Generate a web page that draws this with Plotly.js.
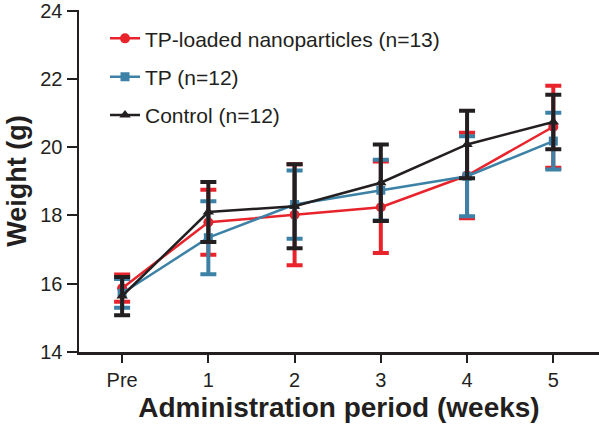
<!DOCTYPE html>
<html>
<head>
<meta charset="utf-8">
<script src="https://cdn.plot.ly/plotly-3.0.1.min.js"></script>
<style>html,body{margin:0;padding:0;background:#fff;}#chart{width:599px;height:430px;}</style>
</head>
<body>
<div id="chart"></div>
<script>
const weeks = ['Pre', '1', '2', '3', '4', '5'];
const seriesNames = ['TP-loaded nanoparticles (n=13)', 'TP (n=12)', 'Control (n=12)'];
const nanoMean = [15.87, 17.80, 18.02, 18.24, 19.17, 20.60];
const nanoErr  = [0.40, 0.95, 1.48, 1.34, 1.25, 1.20];
const tpMean   = [15.72, 17.35, 18.32, 18.74, 19.15, 20.18];
const tpErr    = [0.42, 1.07, 1.00, 0.89, 1.17, 0.83];
const ctrlMean = [15.64, 18.10, 18.27, 18.96, 20.08, 20.74];
const ctrlErr  = [0.56, 0.88, 1.23, 1.12, 0.99, 0.80];
const yTicks = [14, 16, 18, 20, 22, 24];

const colors = ['#e8232b', '#3d82a6', '#231f20'];
const symbols = ['circle', 'square', 'triangle-up'];
const means = [nanoMean, tpMean, ctrlMean];
const errs = [nanoErr, tpErr, ctrlErr];

const traces = means.map((m, i) => ({
  type: 'scatter',
  mode: 'lines+markers',
  x: weeks,
  y: m,
  name: seriesNames[i],
  legendgroup: 'g' + i,
  line: {color: colors[i], width: 2.5},
  marker: {color: colors[i], symbol: symbols[i], size: i === 1 ? 9 : 10},
  error_y: {type: 'data', array: errs[i], visible: true, color: colors[i], thickness: 4, width: 8}
}));

const font = 'Liberation Sans, Arial, Helvetica, sans-serif';
const layout = {
  width: 599, height: 430,
  margin: {l: 79, r: 0, t: 10, b: 78},
  paper_bgcolor: '#fff', plot_bgcolor: '#fff',
  font: {family: font, color: '#231f20', size: 20},
  showlegend: true,
  legend: {
    x: 0.05, y: 0.976, xanchor: 'left', yanchor: 'top',
    font: {family: font, size: 21, color: '#231f20'},
    bgcolor: 'rgba(0,0,0,0)', traceorder: 'grouped', tracegroupgap: 8
  },
  xaxis: {
    type: 'category', range: [-0.5, 5.53],
    showline: true, linecolor: '#231f20', linewidth: 2.5,
    ticks: 'outside', ticklen: 8, tickwidth: 2, tickcolor: '#231f20',
    showgrid: false, zeroline: false,
    tickfont: {family: font, size: 20, color: '#231f20'},
    title: {text: 'Administration period (weeks)', font: {family: font, size: 28, color: '#231f20', weight: 'bold'}, standoff: 8}
  },
  yaxis: {
    range: [14, 24.02], tickmode: 'array', tickvals: yTicks, ticktext: yTicks.map(String),
    ticklabeloverflow: 'allow',
    showline: true, linecolor: '#231f20', linewidth: 2.5,
    ticks: 'outside', ticklen: 10, tickwidth: 2, tickcolor: '#231f20',
    showgrid: false, zeroline: false,
    tickfont: {family: font, size: 20, color: '#231f20'},
    title: {text: 'Weight (g)', font: {family: font, size: 27, color: '#231f20', weight: 'bold'}, standoff: 6}
  }
};

Plotly.newPlot('chart', traces, layout, {displayModeBar: false, staticPlot: true});
</script>
</body>
</html>
